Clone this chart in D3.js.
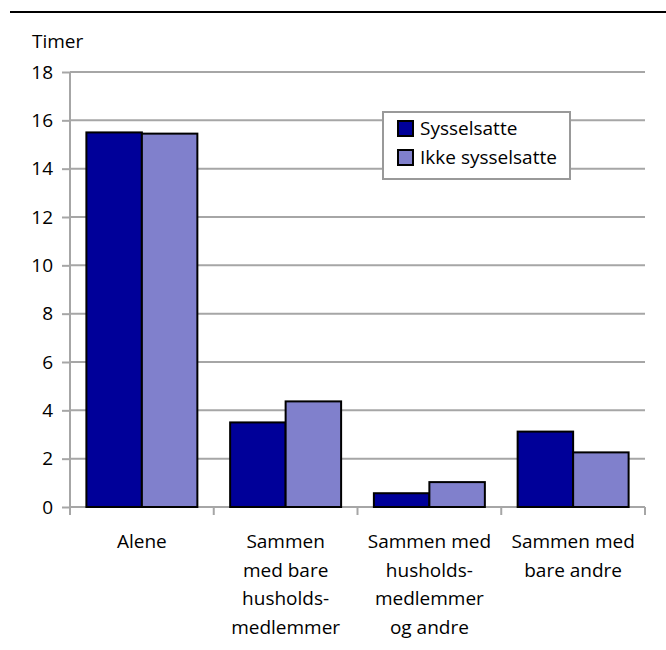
<!DOCTYPE html>
<html>
<head>
<meta charset="utf-8">
<script src="https://cdn.jsdelivr.net/npm/d3@7"></script>
<style>
  html, body { margin: 0; padding: 0; background: #fff; }
  svg { display: block; }
  text { font-family: "Open Sans", sans-serif; fill: #000; }
</style>
</head>
<body>
<svg id="chart" width="666" height="650"></svg>
<script>
const categories = ["Alene", "Sammen med bare husholdsmedlemmer", "Sammen med husholdsmedlemmer og andre", "Sammen med bare andre"];
const categoryLines = [
  ["Alene"],
  ["Sammen", "med bare", "husholds-", "medlemmer"],
  ["Sammen med", "husholds-", "medlemmer", "og andre"],
  ["Sammen med", "bare andre"]
];
const seriesNames = ["Sysselsatte", "Ikke sysselsatte"];
const sysselsatte = [15.5, 3.5, 0.57, 3.12];
const ikkeSysselsatte = [15.45, 4.37, 1.03, 2.26];
const yTicks = [0, 2, 4, 6, 8, 10, 12, 14, 16, 18];
const yAxisTitle = "Timer";

(function () {
const colors = ["#000099", "#8080cc"];
const gridColor = "#a6a6a6";
const fontSize = 19;
const fontFamily = "'Open Sans', sans-serif";

const svg = d3.select("#chart");
const pL = 70, pR = 645, pT = 72, pB = 507;

const x = d3.scaleBand().domain(categories).range([pL, pR])
  .paddingInner(0.228).paddingOuter(0.114);
const xs = d3.scaleBand().domain(seriesNames).range([0, x.bandwidth()]);
const y = d3.scaleLinear().domain([0, 18]).range([pB, pT]);

// gridlines
svg.append("g").selectAll("line").data(yTicks.filter(d => d > 0)).join("line")
  .attr("x1", pL).attr("x2", pR)
  .attr("y1", d => y(d)).attr("y2", d => y(d))
  .attr("stroke", gridColor).attr("stroke-width", 2);

// y axis
const yAxis = d3.axisLeft(y).tickValues(yTicks).tickSize(8).tickPadding(9).tickFormat(d3.format("d"));
const gy = svg.append("g").attr("transform", `translate(${pL},0)`).call(yAxis);
gy.select(".domain").remove();
gy.selectAll(".tick line").attr("stroke", gridColor).attr("stroke-width", 2);
gy.selectAll(".tick text").attr("font-size", fontSize).attr("font-family", fontFamily).attr("fill", "#000");
svg.append("line").attr("x1", pL).attr("x2", pL).attr("y1", pT).attr("y2", pB + 8)
  .attr("stroke", gridColor).attr("stroke-width", 2);

// x axis line and ticks at band boundaries
svg.append("line").attr("x1", pL).attr("x2", pR).attr("y1", pB).attr("y2", pB)
  .attr("stroke", gridColor).attr("stroke-width", 2);
const bounds = categories.map(c => x(c) - x.step() * x.paddingOuter() + x.step());
svg.append("g").selectAll("line").data(bounds).join("line")
  .attr("x1", d => d).attr("x2", d => d).attr("y1", pB).attr("y2", pB + 8)
  .attr("stroke", gridColor).attr("stroke-width", 2);

// bars
const rows = categories.map((c, i) => ({ c, vals: [sysselsatte[i], ikkeSysselsatte[i]] }));
const groups = svg.append("g").selectAll("g").data(rows).join("g")
  .attr("transform", d => `translate(${x(d.c)},0)`);
groups.selectAll("rect").data(d => d.vals.map((v, j) => ({ v, s: seriesNames[j], j }))).join("rect")
  .attr("x", d => xs(d.s)).attr("width", xs.bandwidth())
  .attr("y", d => y(d.v)).attr("height", d => y(0) - y(d.v))
  .attr("fill", d => colors[d.j]).attr("stroke", "#000").attr("stroke-width", 2);

// x labels
const lab = svg.append("g").selectAll("text").data(categories).join("text")
  .attr("text-anchor", "middle").attr("font-size", fontSize)
  .attr("x", d => x(d) + x.bandwidth() / 2).attr("y", 548);
lab.each(function (d, i) {
  d3.select(this).selectAll("tspan").data(categoryLines[i]).join("tspan")
    .attr("x", x(d) + x.bandwidth() / 2)
    .attr("y", (t, k) => 548 + k * 28.5)
    .text(t => t);
});

// y title
svg.append("text").attr("x", 32).attr("y", 48).attr("font-size", fontSize).text(yAxisTitle);

// top rule
svg.append("line").attr("x1", 10).attr("x2", 666).attr("y1", 12).attr("y2", 12)
  .attr("stroke", "#000").attr("stroke-width", 2);

// legend
const lg = svg.append("g");
lg.append("rect").attr("x", 383).attr("y", 112).attr("width", 187).attr("height", 67)
  .attr("fill", "#fff").attr("stroke", "#999").attr("stroke-width", 2);
const li = lg.selectAll("g").data(seriesNames).join("g")
  .attr("transform", (d, i) => `translate(398,${121 + i * 29})`);
li.append("rect").attr("width", 15).attr("height", 15)
  .attr("fill", (d, i) => colors[i]).attr("stroke", "#000").attr("stroke-width", 2);
li.append("text").attr("x", 22).attr("y", 14).attr("font-size", fontSize).text(d => d);
})();
</script>
</body>
</html>
